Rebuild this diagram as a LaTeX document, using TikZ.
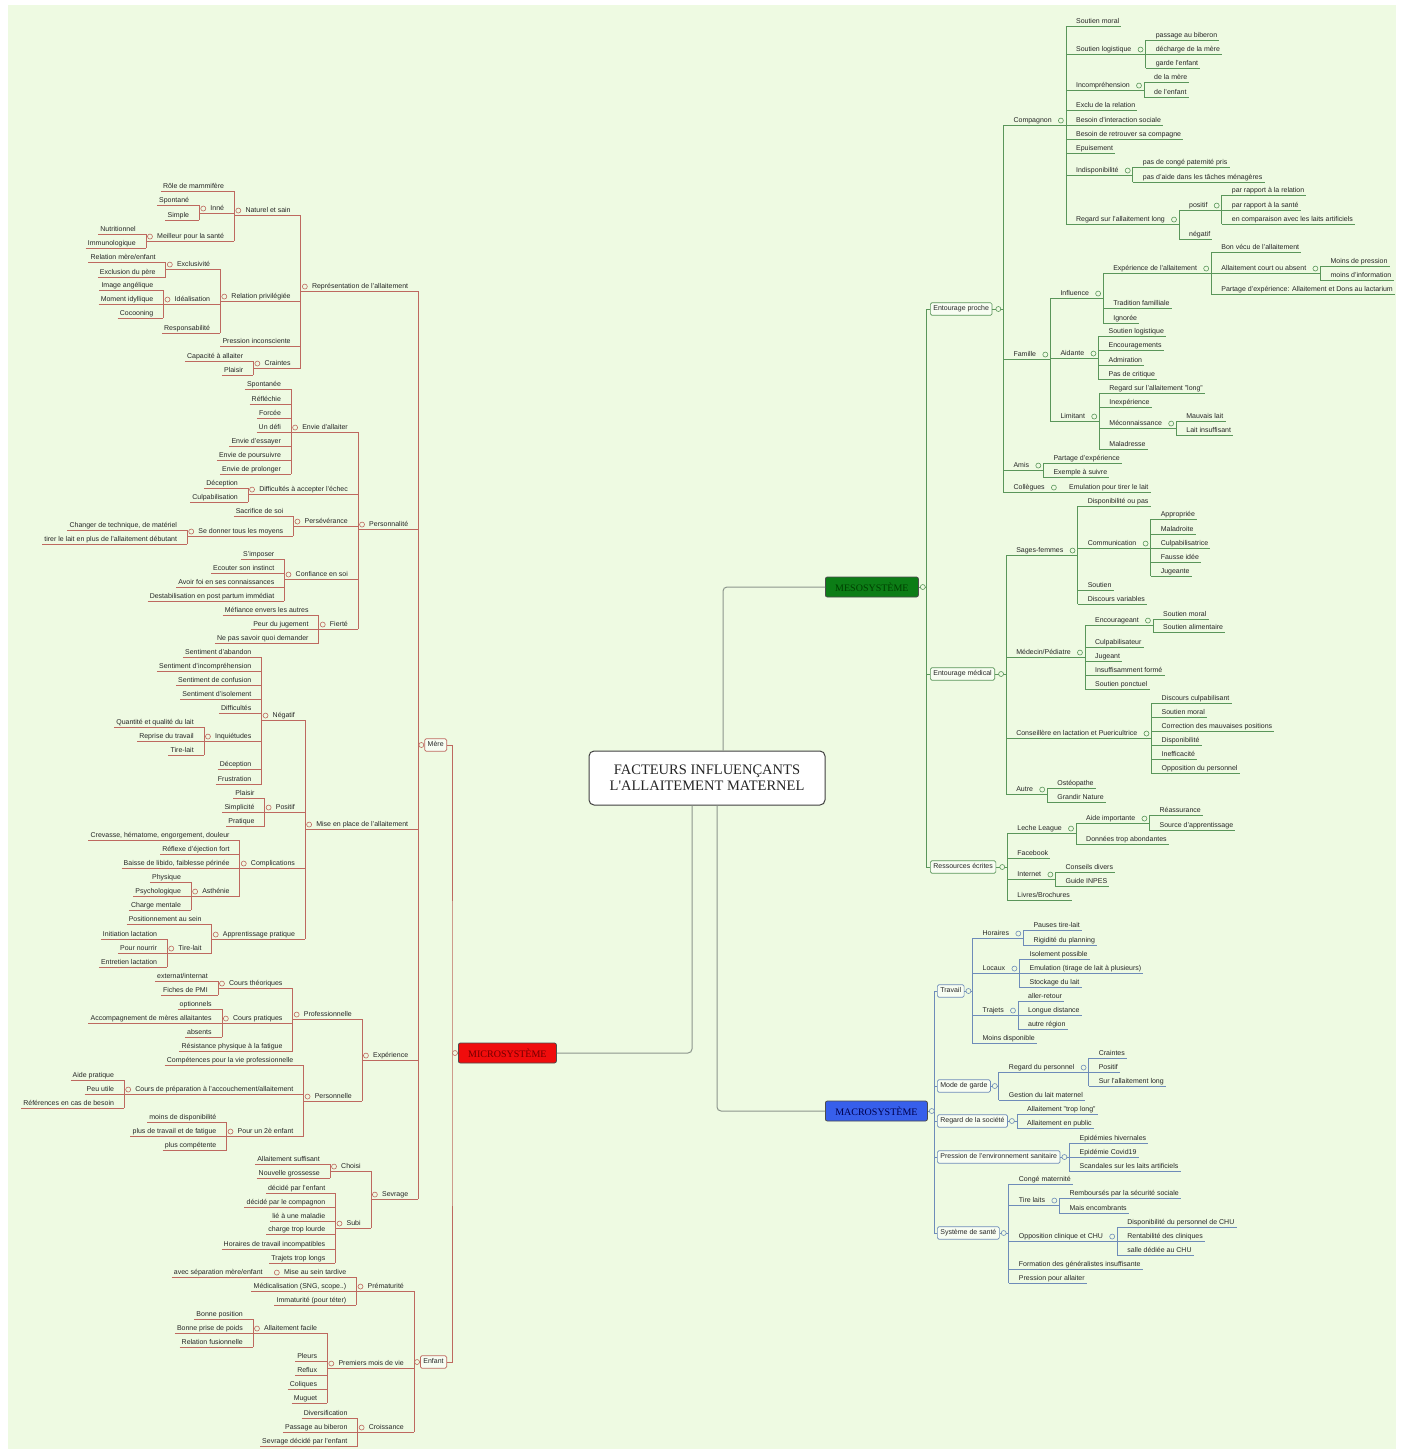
\documentclass[tikz,border=0pt]{standalone}
\usepackage{fontspec}
\setmainfont{Liberation Sans}
\newfontfamily\titlefont{Liberation Serif}
\definecolor{bgc}{RGB}{238,250,226}
\definecolor{microline}{RGB}{190,105,95}
\definecolor{mesoline}{RGB}{90,150,90}
\definecolor{macroline}{RGB}{110,140,185}
\definecolor{trunk}{RGB}{140,150,140}
\definecolor{microred}{RGB}{240,12,12}
\definecolor{mesogreen}{RGB}{12,125,22}
\definecolor{macroblue}{RGB}{55,95,235}
\colorlet{br}{microline}
\tikzset{
  txt/.style={font=\fontsize{7}{8}\selectfont, text=black!85, inner xsep=0pt, inner ysep=1pt, text height=5pt, text depth=1.5pt},
  uline/.style={append after command={(\tikzlastnode.south west) edge[draw=br, line width=0.7pt] (\tikzlastnode.south east)}},
  lleaf/.style={txt, uline, anchor=south east, execute at begin node=\hspace*{2pt}, execute at end node=\hspace*{10pt}},
  lknot/.style={txt, uline, anchor=south east, execute at begin node=\hspace*{11pt}, execute at end node=\hspace*{10pt},
    append after command={([xshift=4pt]\tikzlastnode.west) node[knob] {}}},
  rleaf/.style={txt, uline, anchor=south west, execute at begin node=\hspace*{10pt}, execute at end node=\hspace*{2pt}},
  rknot/.style={txt, uline, anchor=south west, execute at begin node=\hspace*{10pt}, execute at end node=\hspace*{14pt},
    append after command={([xshift=-5pt]\tikzlastnode.east) node[knob] {}}},
  knob/.style={circle, anchor=center, draw=br, fill=bgc, line width=0.6pt, inner sep=0pt, minimum size=5pt},
  brk/.style={draw=br, line width=0.7pt},
  topbox/.style={txt, draw=br, fill=white!55!bgc, rounded corners=1.5pt, inner xsep=3pt, inner ysep=3pt, line width=0.7pt},
  sysbox/.style={font=\titlefont\fontsize{10}{12}\selectfont, draw=black!70, rounded corners=2pt, minimum height=20pt, inner sep=0pt, line width=0.8pt},
  cbox/.style={font=\titlefont\fontsize{14.5}{16}\selectfont, draw=black!75, fill=white, rounded corners=5pt, line width=1pt, align=center, minimum width=236pt, minimum height=54pt, text=black!85},
  cline/.style={draw=trunk, line width=1pt, rounded corners=4pt}
}
\begin{document}
\begin{tikzpicture}[x=1pt,y=-1pt]
\useasboundingbox (0,0) rectangle (1404,1452);
\fill[white] (0,0) rectangle (1404,1452);
\fill[bgc] (8,5) rectangle (1396,1449);

% centre
\node[cbox] (center) at (707,778) {FACTEURS INFLUENÇANTS\\L'ALLAITEMENT MATERNEL};
\node[sysbox, fill=microred, text=red!45!black, minimum width=98pt, anchor=west] (micro) at (458,1053) {MICROSYSTÈME};
\node[sysbox, fill=mesogreen, text=green!25!black, minimum width=93pt, anchor=west] (meso) at (825,587) {MESOSYSTÈME};
\node[sysbox, fill=macroblue, text=blue!30!black, minimum width=102pt, anchor=west] (macro) at (825,1111) {MACROSYSTÈME};
\draw[cline] ([xshift=-15pt]center.south) |- (micro.east);
\draw[cline] ([xshift=16pt]center.north) |- (meso.west);
\draw[cline] ([xshift=10pt]center.south) |- (macro.west);

% microsysteme
\colorlet{br}{microline}
\coordinate (microb) at ([xshift=-6pt]micro.west);
\node[topbox, anchor=east] (mere) at (447,745) {Mère};
\node[topbox, anchor=east] (enfant) at (447,1362) {Enfant};
\draw[brk] (mere.east) -| (microb) |- (enfant.east);
\draw[brk] (microb) -- (micro.west);
\node[knob] (microk) at ([xshift=-3pt]micro.west) {};
\coordinate (mereb) at ([xshift=-6pt]mere.west);
\draw[brk] (mereb) -- (mere.west);
\node[knob] (merek) at ([xshift=-3pt]mere.west) {};
\coordinate (enfb) at ([xshift=-6pt]enfant.west);
\draw[brk] (enfb) -- (enfant.west);
\node[knob] (enfk) at ([xshift=-3pt]enfant.west) {};

% Mère / représentation
\node[lknot] (rep) at (mereb |- 0,291) {Représentation de l'allaitement};
\node[lknot] (nat) at (rep.west |- 0,215) {Naturel et sain};
\node[lleaf] (mam) at (nat.west |- 0,191) {Rôle de mammifère};
\node[lknot] (inne) at (nat.west |- 0,213) {Inné};
\node[lleaf] (spont) at (inne.west |- 0,205) {Spontané};
\node[lleaf] (simple) at (inne.west |- 0,220) {Simple};
\node[lknot] (sante) at (nat.west |- 0,241) {Meilleur pour la santé};
\node[lleaf] (nutri) at (sante.west |- 0,234) {Nutritionnel};
\node[lleaf] (immuno) at (sante.west |- 0,248) {Immunologique};
\draw[brk] (spont.south east) -- (simple.south east);
\draw[brk] (nutri.south east) -- (immuno.south east);
\draw[brk] (mam.south east) -- (sante.south east);
\node[lknot] (rel) at (rep.west |- 0,301) {Relation privilégiée};
\node[lknot] (exclu) at (rel.west |- 0,269) {Exclusivité};
\node[lleaf] (meref) at (exclu.west |- 0,262) {Relation mère/enfant};
\node[lleaf] (pere) at (exclu.west |- 0,277) {Exclusion du père};
\node[lknot] (ideal) at (rel.west |- 0,304) {Idéalisation};
\node[lleaf] (ange) at (ideal.west |- 0,290) {Image angélique};
\node[lleaf] (idyl) at (ideal.west |- 0,304) {Moment idyllique};
\node[lleaf] (cocoon) at (ideal.west |- 0,318) {Cocooning};
\node[lleaf] (respo) at (rel.west |- 0,333) {Responsabilité};
\draw[brk] (meref.south east) -- (pere.south east);
\draw[brk] (ange.south east) -- (cocoon.south east);
\draw[brk] (exclu.south east) -- (respo.south east);
\node[lleaf] (pinc) at (rep.west |- 0,346) {Pression inconsciente};
\node[lknot] (crain) at (rep.west |- 0,368) {Craintes};
\node[lleaf] (capa) at (crain.west |- 0,361) {Capacité à allaiter};
\node[lleaf] (plais) at (crain.west |- 0,375) {Plaisir};
\draw[brk] (capa.south east) -- (plais.south east);
\draw[brk] (nat.south east) -- (crain.south east);

% Mère / personnalité
\node[lknot] (perso) at (mereb |- 0,529) {Personnalité};
\node[lknot] (envie) at (perso.west |- 0,432) {Envie d'allaiter};
\node[lleaf] (spontanee) at (envie.west |- 0,389) {Spontanée};
\node[lleaf] (reflechie) at (envie.west |- 0,404) {Réfléchie};
\node[lleaf] (forcee) at (envie.west |- 0,418) {Forcée};
\node[lleaf] (defi) at (envie.west |- 0,432) {Un défi};
\node[lleaf] (essayer) at (envie.west |- 0,446) {Envie d'essayer};
\node[lleaf] (poursuivre) at (envie.west |- 0,460) {Envie de poursuivre};
\node[lleaf] (prolonger) at (envie.west |- 0,474) {Envie de prolonger};
\draw[brk] (spontanee.south east) -- (prolonger.south east);
\node[lknot] (echec) at (perso.west |- 0,494) {Difficultés à accepter l'échec};
\node[lleaf] (decep) at (echec.west |- 0,488) {Déception};
\node[lleaf] (culpab) at (echec.west |- 0,502) {Culpabilisation};
\draw[brk] (decep.south east) -- (culpab.south east);
\node[lknot] (perse) at (perso.west |- 0,526) {Persévérance};
\node[lleaf] (sacri) at (perse.west |- 0,516) {Sacrifice de soi};
\node[lknot] (moyens) at (perse.west |- 0,536) {Se donner tous les moyens};
\node[lleaf] (techn) at (moyens.west |- 0,530) {Changer de technique, de matériel};
\node[lleaf] (tirer) at (moyens.west |- 0,544) {tirer le lait en plus de l'allaitement débutant};
\draw[brk] (techn.south east) -- (tirer.south east);
\draw[brk] (sacri.south east) -- (moyens.south east);
\node[lknot] (confi) at (perso.west |- 0,579) {Confiance en soi};
\node[lleaf] (impose) at (confi.west |- 0,559) {S'imposer};
\node[lleaf] (instinct) at (confi.west |- 0,573) {Ecouter son instinct};
\node[lleaf] (foi) at (confi.west |- 0,587) {Avoir foi en ses connaissances};
\node[lleaf] (destab) at (confi.west |- 0,601) {Destabilisation en post partum immédiat};
\draw[brk] (impose.south east) -- (destab.south east);
\node[lknot] (fierte) at (perso.west |- 0,629) {Fierté};
\node[lleaf] (mefi) at (fierte.west |- 0,615) {Méfiance envers les autres};
\node[lleaf] (jugem) at (fierte.west |- 0,629) {Peur du jugement};
\node[lleaf] (demand) at (fierte.west |- 0,643) {Ne pas savoir quoi demander};
\draw[brk] (mefi.south east) -- (demand.south east);
\draw[brk] (envie.south east) -- (fierte.south east);

% Mère / mise en place
\node[lknot] (mise) at (mereb |- 0,829) {Mise en place de l'allaitement};
\node[lknot] (negat) at (mise.west |- 0,720) {Négatif};
\node[lleaf] (aband) at (negat.west |- 0,657) {Sentiment d'abandon};
\node[lleaf] (incomp) at (negat.west |- 0,671) {Sentiment d'incompréhension};
\node[lleaf] (confus) at (negat.west |- 0,685) {Sentiment de confusion};
\node[lleaf] (isole) at (negat.west |- 0,699) {Sentiment d'isolement};
\node[lleaf] (diffi) at (negat.west |- 0,713) {Difficultés};
\node[lknot] (inquiet) at (negat.west |- 0,741) {Inquiétudes};
\node[lleaf] (quali) at (inquiet.west |- 0,727) {Quantité et qualité du lait};
\node[lleaf] (reprise) at (inquiet.west |- 0,741) {Reprise du travail};
\node[lleaf] (tirelait) at (inquiet.west |- 0,755) {Tire-lait};
\draw[brk] (quali.south east) -- (tirelait.south east);
\node[lleaf] (decep2) at (negat.west |- 0,769) {Déception};
\node[lleaf] (frust) at (negat.west |- 0,784) {Frustration};
\draw[brk] (aband.south east) -- (frust.south east);
\node[lknot] (posit) at (mise.west |- 0,812) {Positif};
\node[lleaf] (plais2) at (posit.west |- 0,798) {Plaisir};
\node[lleaf] (simpli) at (posit.west |- 0,812) {Simplicité};
\node[lleaf] (prati) at (posit.west |- 0,826) {Pratique};
\draw[brk] (plais2.south east) -- (prati.south east);
\node[lknot] (compli) at (mise.west |- 0,868) {Complications};
\node[lleaf] (crev) at (compli.west |- 0,840) {Crevasse, hématome, engorgement, douleur};
\node[lleaf] (eject) at (compli.west |- 0,854) {Réflexe d'éjection fort};
\node[lleaf] (libido) at (compli.west |- 0,868) {Baisse de libido, faiblesse périnée};
\node[lknot] (asthe) at (compli.west |- 0,896) {Asthénie};
\node[lleaf] (physi) at (asthe.west |- 0,882) {Physique};
\node[lleaf] (psycho) at (asthe.west |- 0,896) {Psychologique};
\node[lleaf] (charge) at (asthe.west |- 0,910) {Charge mentale};
\draw[brk] (physi.south east) -- (charge.south east);
\draw[brk] (crev.south east) -- (asthe.south east);
\node[lknot] (appren) at (mise.west |- 0,939) {Apprentissage pratique};
\node[lleaf] (posein) at (appren.west |- 0,924) {Positionnement au sein};
\node[lknot] (tirelait2) at (appren.west |- 0,953) {Tire-lait};
\node[lleaf] (initl) at (tirelait2.west |- 0,939) {Initiation lactation};
\node[lleaf] (nourr) at (tirelait2.west |- 0,953) {Pour nourrir};
\node[lleaf] (entre) at (tirelait2.west |- 0,967) {Entretien lactation};
\draw[brk] (initl.south east) -- (entre.south east);
\draw[brk] (posein.south east) -- (tirelait2.south east);
\draw[brk] (negat.south east) -- (appren.south east);

% Mère / expérience
\node[lknot] (exper) at (mereb |- 0,1060) {Expérience};
\node[lknot] (profe) at (exper.west |- 0,1019) {Professionnelle};
\node[lknot] (theo) at (profe.west |- 0,988) {Cours théoriques};
\node[lleaf] (extern) at (theo.west |- 0,981) {externat/internat};
\node[lleaf] (fiches) at (theo.west |- 0,995) {Fiches de PMI};
\draw[brk] (extern.south east) -- (fiches.south east);
\node[lknot] (prat) at (profe.west |- 0,1023) {Cours pratiques};
\node[lleaf] (option) at (prat.west |- 0,1009) {optionnels};
\node[lleaf] (accomp) at (prat.west |- 0,1023) {Accompagnement de mères allaitantes};
\node[lleaf] (absents) at (prat.west |- 0,1037) {absents};
\draw[brk] (option.south east) -- (absents.south east);
\node[lleaf] (resist) at (profe.west |- 0,1051) {Résistance physique à la fatigue};
\draw[brk] (theo.south east) -- (resist.south east);
\node[lknot] (personn) at (exper.west |- 0,1101) {Personnelle};
\node[lleaf] (compet) at (personn.west |- 0,1065) {Compétences pour la vie professionnelle};
\node[lknot] (prepa) at (personn.west |- 0,1094) {Cours de préparation à l'accouchement/allaitement};
\node[lleaf] (aidep) at (prepa.west |- 0,1080) {Aide pratique};
\node[lleaf] (peuut) at (prepa.west |- 0,1094) {Peu utile};
\node[lleaf] (refer) at (prepa.west |- 0,1108) {Références en cas de besoin};
\draw[brk] (aidep.south east) -- (refer.south east);
\node[lknot] (second) at (personn.west |- 0,1136) {Pour un 2è enfant};
\node[lleaf] (moinsd) at (second.west |- 0,1122) {moins de disponibilité};
\node[lleaf] (plust) at (second.west |- 0,1136) {plus de travail et de fatigue};
\node[lleaf] (plusc) at (second.west |- 0,1150) {plus compétente};
\draw[brk] (moinsd.south east) -- (plusc.south east);
\draw[brk] (compet.south east) -- (second.south east);
\draw[brk] (profe.south east) -- (personn.south east);

% Mère / sevrage
\node[lknot] (sevr) at (mereb |- 0,1199) {Sevrage};
\node[lknot] (choisi) at (sevr.west |- 0,1171) {Choisi};
\node[lleaf] (suffi) at (choisi.west |- 0,1164) {Allaitement suffisant};
\node[lleaf] (gross) at (choisi.west |- 0,1178) {Nouvelle grossesse};
\draw[brk] (suffi.south east) -- (gross.south east);
\node[lknot] (subi) at (sevr.west |- 0,1228) {Subi};
\node[lleaf] (denf) at (subi.west |- 0,1193) {décidé par l'enfant};
\node[lleaf] (dcomp) at (subi.west |- 0,1207) {décidé par le compagnon};
\node[lleaf] (malad) at (subi.west |- 0,1221) {lié à une maladie};
\node[lleaf] (lourd) at (subi.west |- 0,1234) {charge trop lourde};
\node[lleaf] (horai) at (subi.west |- 0,1249) {Horaires de travail incompatibles};
\node[lleaf] (trajl) at (subi.west |- 0,1263) {Trajets trop longs};
\draw[brk] (denf.south east) -- (trajl.south east);
\draw[brk] (choisi.south east) -- (subi.south east);
\draw[brk] (rep.south east) -- (sevr.south east);

% Enfant
\node[lknot] (prema) at (enfb |- 0,1291) {Prématurité};
\node[lknot] (tardi) at (prema.west |- 0,1277) {Mise au sein tardive};
\node[lleaf] (separ) at (tardi.west |- 0,1277) {avec séparation mère/enfant};
\node[lleaf] (medic) at (prema.west |- 0,1291) {Médicalisation (SNG, scope..)};
\node[lleaf] (immat) at (prema.west |- 0,1305) {Immaturité (pour téter)};
\draw[brk] (tardi.south east) -- (immat.south east);
\node[lknot] (premois) at (enfb |- 0,1368) {Premiers mois de vie};
\node[lknot] (facile) at (premois.west |- 0,1333) {Allaitement facile};
\node[lleaf] (bpos) at (facile.west |- 0,1319) {Bonne position};
\node[lleaf] (bpoids) at (facile.west |- 0,1333) {Bonne prise de poids};
\node[lleaf] (fusion) at (facile.west |- 0,1347) {Relation fusionnelle};
\draw[brk] (bpos.south east) -- (fusion.south east);
\node[lleaf] (pleurs) at (premois.west |- 0,1361) {Pleurs};
\node[lleaf] (reflux) at (premois.west |- 0,1375) {Reflux};
\node[lleaf] (coliq) at (premois.west |- 0,1389) {Coliques};
\node[lleaf] (muguet) at (premois.west |- 0,1403) {Muguet};
\draw[brk] (facile.south east) -- (muguet.south east);
\node[lknot] (croiss) at (enfb |- 0,1432) {Croissance};
\node[lleaf] (diver) at (croiss.west |- 0,1418) {Diversification};
\node[lleaf] (pbib) at (croiss.west |- 0,1432) {Passage au biberon};
\node[lleaf] (sevenf) at (croiss.west |- 0,1446) {Sevrage décidé par l'enfant};
\draw[brk] (diver.south east) -- (sevenf.south east);
\draw[brk] (prema.south east) -- (croiss.south east);

% mesosysteme
\colorlet{br}{mesoline}
\coordinate (mesob) at ([xshift=8pt]meso.east);
\node[topbox, anchor=west] (proche) at (930,309) {Entourage proche};
\node[topbox, anchor=west] (medical) at (930,674) {Entourage médical};
\node[topbox, anchor=west] (ecrit) at (930,867) {Ressources écrites};
\draw[brk] (proche.west) -| (mesob) |- (ecrit.west);
\draw[brk] (medical.west) -- (mesob |- medical.west);
\draw[brk] (meso.east) -- (mesob);
\node[knob] (mesok) at ([xshift=4pt]meso.east) {};

% Entourage proche
\coordinate (procheb) at ([xshift=11pt]proche.east);
\draw[brk] (proche.east) -- (procheb);
\node[knob] (prochek) at ([xshift=6pt]proche.east) {};
\node[rknot] (compa) at (procheb |- 0,125) {Compagnon};
\node[rleaf] (smoral) at (compa.east |- 0,26) {Soutien moral};
\node[rknot] (slogi) at (compa.east |- 0,54) {Soutien logistique};
\node[rleaf] (biber) at (slogi.east |- 0,40) {passage au biberon};
\node[rleaf] (decha) at (slogi.east |- 0,54) {décharge de la mère};
\node[rleaf] (gardenf) at (slogi.east |- 0,68) {garde l'enfant};
\draw[brk] (biber.south west) -- (gardenf.south west);
\node[rknot] (incomp2) at (compa.east |- 0,90) {Incompréhension};
\node[rleaf] (dlmere) at (incomp2.east |- 0,82) {de la mère};
\node[rleaf] (dlenf) at (incomp2.east |- 0,97) {de l'enfant};
\draw[brk] (dlmere.south west) -- (dlenf.south west);
\node[rleaf] (exrel) at (compa.east |- 0,110) {Exclu de la relation};
\node[rleaf] (binter) at (compa.east |- 0,125) {Besoin d'interaction sociale};
\node[rleaf] (bretr) at (compa.east |- 0,139) {Besoin de retrouver sa compagne};
\node[rleaf] (epuis) at (compa.east |- 0,153) {Epuisement};
\node[rknot] (indisp) at (compa.east |- 0,175) {Indisponibilité};
\node[rleaf] (conge) at (indisp.east |- 0,167) {pas de congé paternité pris};
\node[rleaf] (menag) at (indisp.east |- 0,182) {pas d'aide dans les tâches ménagères};
\draw[brk] (conge.south west) -- (menag.south west);
\node[rknot] (rlong) at (compa.east |- 0,224) {Regard sur l'allaitement long};
\node[rknot] (positif) at (rlong.east |- 0,210) {positif};
\node[rleaf] (prelat) at (positif.east |- 0,195) {par rapport à la relation};
\node[rleaf] (psante) at (positif.east |- 0,210) {par rapport à la santé};
\node[rleaf] (partif) at (positif.east |- 0,224) {en comparaison avec les laits artificiels};
\draw[brk] (prelat.south west) -- (partif.south west);
\node[rleaf] (negatif) at (rlong.east |- 0,239) {négatif};
\draw[brk] (positif.south west) -- (negatif.south west);
\draw[brk] (smoral.south west) -- (rlong.south west);
\node[rknot] (famil) at (procheb |- 0,359) {Famille};
\node[rknot] (influ) at (famil.east |- 0,298) {Influence};
\node[rknot] (expal) at (influ.east |- 0,273) {Expérience de l'allaitement};
\node[rleaf] (bonvecu) at (expal.east |- 0,252) {Bon vécu de l'allaitement};
\node[rknot] (court) at (expal.east |- 0,273) {Allaitement court ou absent};
\node[rleaf] (mpress) at (court.east |- 0,266) {Moins de pression};
\node[rleaf] (minfo) at (court.east |- 0,280) {moins d'information};
\draw[brk] (mpress.south west) -- (minfo.south west);
\node[rleaf] (lacta) at (expal.east |- 0,294) {Partage d'expérience: Allaitement et Dons au lactarium};
\draw[brk] (bonvecu.south west) -- (lacta.south west);
\node[rleaf] (tradi) at (influ.east |- 0,308) {Tradition familliale};
\node[rleaf] (ignor) at (influ.east |- 0,323) {Ignorée};
\draw[brk] (expal.south west) -- (ignor.south west);
\node[rknot] (aidan) at (famil.east |- 0,358) {Aidante};
\node[rleaf] (slog2) at (aidan.east |- 0,336) {Soutien logistique};
\node[rleaf] (encou) at (aidan.east |- 0,350) {Encouragements};
\node[rleaf] (admir) at (aidan.east |- 0,365) {Admiration};
\node[rleaf] (critiq) at (aidan.east |- 0,379) {Pas de critique};
\draw[brk] (slog2.south west) -- (critiq.south west);
\node[rknot] (limit) at (famil.east |- 0,421) {Limitant};
\node[rleaf] (rlong2) at (limit.east |- 0,393) {Regard sur l'allaitement "long"};
\node[rleaf] (inexp) at (limit.east |- 0,407) {Inexpérience};
\node[rknot] (mecon) at (limit.east |- 0,428) {Méconnaissance};
\node[rleaf] (mlait) at (mecon.east |- 0,421) {Mauvais lait};
\node[rleaf] (linsuf) at (mecon.east |- 0,435) {Lait insuffisant};
\draw[brk] (mlait.south west) -- (linsuf.south west);
\node[rleaf] (maladr) at (limit.east |- 0,449) {Maladresse};
\draw[brk] (rlong2.south west) -- (maladr.south west);
\draw[brk] (influ.south west) -- (limit.south west);
\node[rknot] (amis) at (procheb |- 0,470) {Amis};
\node[rleaf] (pexp) at (amis.east |- 0,463) {Partage d'expérience};
\node[rleaf] (exsui) at (amis.east |- 0,477) {Exemple à suivre};
\draw[brk] (pexp.south west) -- (exsui.south west);
\node[rknot] (colle) at (procheb |- 0,492) {Collègues};
\node[rleaf] (emula) at (colle.east |- 0,492) {Emulation pour tirer le lait};
\draw[brk] (compa.south west) -- (colle.south west);

% Entourage médical
\coordinate (medicb) at ([xshift=11pt]medical.east);
\draw[brk] (medical.east) -- (medicb);
\node[knob] (medicalk) at ([xshift=6pt]medical.east) {};
\node[rknot] (sagef) at (medicb |- 0,555) {Sages-femmes};
\node[rleaf] (dispo1) at (sagef.east |- 0,506) {Disponibilité ou pas};
\node[rknot] (commu) at (sagef.east |- 0,548) {Communication};
\node[rleaf] (appro) at (commu.east |- 0,519) {Appropriée};
\node[rleaf] (maladro) at (commu.east |- 0,534) {Maladroite};
\node[rleaf] (culpa) at (commu.east |- 0,548) {Culpabilisatrice};
\node[rleaf] (fausse) at (commu.east |- 0,562) {Fausse idée};
\node[rleaf] (jugea) at (commu.east |- 0,576) {Jugeante};
\draw[brk] (appro.south west) -- (jugea.south west);
\node[rleaf] (soutien) at (sagef.east |- 0,590) {Soutien};
\node[rleaf] (dvari) at (sagef.east |- 0,604) {Discours variables};
\draw[brk] (dispo1.south west) -- (dvari.south west);
\node[rknot] (medec) at (medicb |- 0,657) {Médecin/Pédiatre};
\node[rknot] (encour) at (medec.east |- 0,625) {Encourageant};
\node[rleaf] (smoral2) at (encour.east |- 0,619) {Soutien moral};
\node[rleaf] (salim) at (encour.east |- 0,632) {Soutien alimentaire};
\draw[brk] (smoral2.south west) -- (salim.south west);
\node[rleaf] (culpeur) at (medec.east |- 0,647) {Culpabilisateur};
\node[rleaf] (jugeant) at (medec.east |- 0,661) {Jugeant};
\node[rleaf] (insuf) at (medec.east |- 0,675) {Insuffisamment formé};
\node[rleaf] (ponct) at (medec.east |- 0,689) {Soutien ponctuel};
\draw[brk] (encour.south west) -- (ponct.south west);
\node[rknot] (consei) at (medicb |- 0,738) {Conseillère en lactation et Puericultrice};
\node[rleaf] (dculp) at (consei.east |- 0,703) {Discours culpabilisant};
\node[rleaf] (smoral3) at (consei.east |- 0,717) {Soutien moral};
\node[rleaf] (correc) at (consei.east |- 0,731) {Correction des mauvaises positions};
\node[rleaf] (dispo2) at (consei.east |- 0,745) {Disponibilité};
\node[rleaf] (ineff) at (consei.east |- 0,759) {Inefficacité};
\node[rleaf] (oppos) at (consei.east |- 0,773) {Opposition du personnel};
\draw[brk] (dculp.south west) -- (oppos.south west);
\node[rknot] (autre) at (medicb |- 0,794) {Autre};
\node[rleaf] (osteo) at (autre.east |- 0,788) {Ostéopathe};
\node[rleaf] (gnat) at (autre.east |- 0,802) {Grandir Nature};
\draw[brk] (osteo.south west) -- (gnat.south west);
\draw[brk] (sagef.south west) -- (autre.south west);

% Ressources écrites
\coordinate (ecritb) at ([xshift=11pt]ecrit.east);
\draw[brk] (ecrit.east) -- (ecritb);
\node[knob] (ecritk) at ([xshift=6pt]ecrit.east) {};
\node[rknot] (leche) at (ecritb |- 0,833) {Leche League};
\node[rknot] (aideim) at (leche.east |- 0,823) {Aide importante};
\node[rleaf] (reass) at (aideim.east |- 0,815) {Réassurance};
\node[rleaf] (sourc) at (aideim.east |- 0,830) {Source d'apprentissage};
\draw[brk] (reass.south west) -- (sourc.south west);
\node[rleaf] (donne) at (leche.east |- 0,844) {Données trop abondantes};
\draw[brk] (aideim.south west) -- (donne.south west);
\node[rleaf] (faceb) at (ecritb |- 0,858) {Facebook};
\node[rknot] (inter) at (ecritb |- 0,879) {Internet};
\node[rleaf] (cdiv) at (inter.east |- 0,872) {Conseils divers};
\node[rleaf] (inpes) at (inter.east |- 0,886) {Guide INPES};
\draw[brk] (cdiv.south west) -- (inpes.south west);
\node[rleaf] (livre) at (ecritb |- 0,900) {Livres/Brochures};
\draw[brk] (leche.south west) -- (livre.south west);

% macrosysteme
\colorlet{br}{macroline}
\coordinate (macrob) at ([xshift=7pt]macro.east);
\node[topbox, anchor=west] (travail) at (937,991) {Travail};
\node[topbox, anchor=west] (modeg) at (937,1086) {Mode de garde};
\node[topbox, anchor=west] (societe) at (937,1121) {Regard de la société};
\node[topbox, anchor=west] (pression) at (937,1157) {Pression de l'environnement sanitaire};
\node[topbox, anchor=west] (systeme) at (937,1233) {Système de santé};
\draw[brk] (travail.west) -| (macrob) |- (systeme.west);
\draw[brk] (modeg.west) -- (macrob |- modeg.west);
\draw[brk] (societe.west) -- (macrob |- societe.west);
\draw[brk] (pression.west) -- (macrob |- pression.west);
\draw[brk] (macro.east) -- (macrob);
\node[knob] (macrok) at ([xshift=4pt]macro.east) {};

% Travail
\coordinate (travb) at ([xshift=8pt]travail.east);
\draw[brk] (travail.east) -- (travb);
\node[knob] (travk) at ([xshift=4pt]travail.east) {};
\node[rknot] (horair) at (travb |- 0,938) {Horaires};
\node[rleaf] (pauses) at (horair.east |- 0,930) {Pauses tire-lait};
\node[rleaf] (rigid) at (horair.east |- 0,945) {Rigidité du planning};
\draw[brk] (pauses.south west) -- (rigid.south west);
\node[rknot] (locaux) at (travb |- 0,973) {Locaux};
\node[rleaf] (isolm) at (locaux.east |- 0,959) {Isolement possible};
\node[rleaf] (tirage) at (locaux.east |- 0,973) {Emulation (tirage de lait à plusieurs)};
\node[rleaf] (stock) at (locaux.east |- 0,987) {Stockage du lait};
\draw[brk] (isolm.south west) -- (stock.south west);
\node[rknot] (trajet) at (travb |- 0,1015) {Trajets};
\node[rleaf] (aller) at (trajet.east |- 0,1001) {aller-retour};
\node[rleaf] (longue) at (trajet.east |- 0,1015) {Longue distance};
\node[rleaf] (region) at (trajet.east |- 0,1029) {autre région};
\draw[brk] (aller.south west) -- (region.south west);
\node[rleaf] (moinsd2) at (travb |- 0,1043) {Moins disponible};
\draw[brk] (horair.south west) -- (moinsd2.south west);

% Mode de garde
\coordinate (modegb) at ([xshift=8pt]modeg.east);
\draw[brk] (modeg.east) -- (modegb);
\node[knob] (modegk) at ([xshift=4pt]modeg.east) {};
\node[rknot] (rperso) at (modegb |- 0,1072) {Regard du personnel};
\node[rleaf] (crain2) at (rperso.east |- 0,1058) {Craintes};
\node[rleaf] (posf) at (rperso.east |- 0,1072) {Positif};
\node[rleaf] (surlong) at (rperso.east |- 0,1086) {Sur l'allaitement long};
\draw[brk] (crain2.south west) -- (surlong.south west);
\node[rleaf] (gesti) at (modegb |- 0,1100) {Gestion du lait maternel};
\draw[brk] (rperso.south west) -- (gesti.south west);

% Regard de la société
\coordinate (societeb) at ([xshift=9pt]societe.east);
\draw[brk] (societe.east) -- (societeb);
\node[knob] (societek) at ([xshift=4pt]societe.east) {};
\node[rleaf] (troplong) at (societeb |- 0,1114) {Allaitement "trop long"};
\node[rleaf] (public) at (societeb |- 0,1128) {Allaitement en public};
\draw[brk] (troplong.south west) -- (public.south west);

% Pression sanitaire
\coordinate (pressb) at ([xshift=9pt]pression.east);
\draw[brk] (pression.east) -- (pressb);
\node[knob] (pressk) at ([xshift=4pt]pression.east) {};
\node[rleaf] (hiver) at (pressb |- 0,1143) {Epidémies hivernales};
\node[rleaf] (covid) at (pressb |- 0,1157) {Epidémie Covid19};
\node[rleaf] (scand) at (pressb |- 0,1171) {Scandales sur les laits artificiels};
\draw[brk] (hiver.south west) -- (scand.south west);

% Système de santé
\coordinate (systb) at ([xshift=9pt]systeme.east);
\draw[brk] (systeme.east) -- (systb);
\node[knob] (systk) at ([xshift=4pt]systeme.east) {};
\node[rleaf] (conmat) at (systb |- 0,1184) {Congé maternité};
\node[rknot] (tlaits) at (systb |- 0,1205) {Tire laits};
\node[rleaf] (rembo) at (tlaits.east |- 0,1198) {Remboursés par la sécurité sociale};
\node[rleaf] (encomb) at (tlaits.east |- 0,1213) {Mais encombrants};
\draw[brk] (rembo.south west) -- (encomb.south west);
\node[rknot] (oppcl) at (systb |- 0,1241) {Opposition clinique et CHU};
\node[rleaf] (dchu) at (oppcl.east |- 0,1227) {Disponibilité du personnel de CHU};
\node[rleaf] (renta) at (oppcl.east |- 0,1241) {Rentabilité des cliniques};
\node[rleaf] (salle) at (oppcl.east |- 0,1255) {salle dédiée au CHU};
\draw[brk] (dchu.south west) -- (salle.south west);
\node[rleaf] (forma) at (systb |- 0,1269) {Formation des généralistes insuffisante};
\node[rleaf] (ppall) at (systb |- 0,1283) {Pression pour allaiter};
\draw[brk] (conmat.south west) -- (ppall.south west);
\end{tikzpicture}
\end{document}
